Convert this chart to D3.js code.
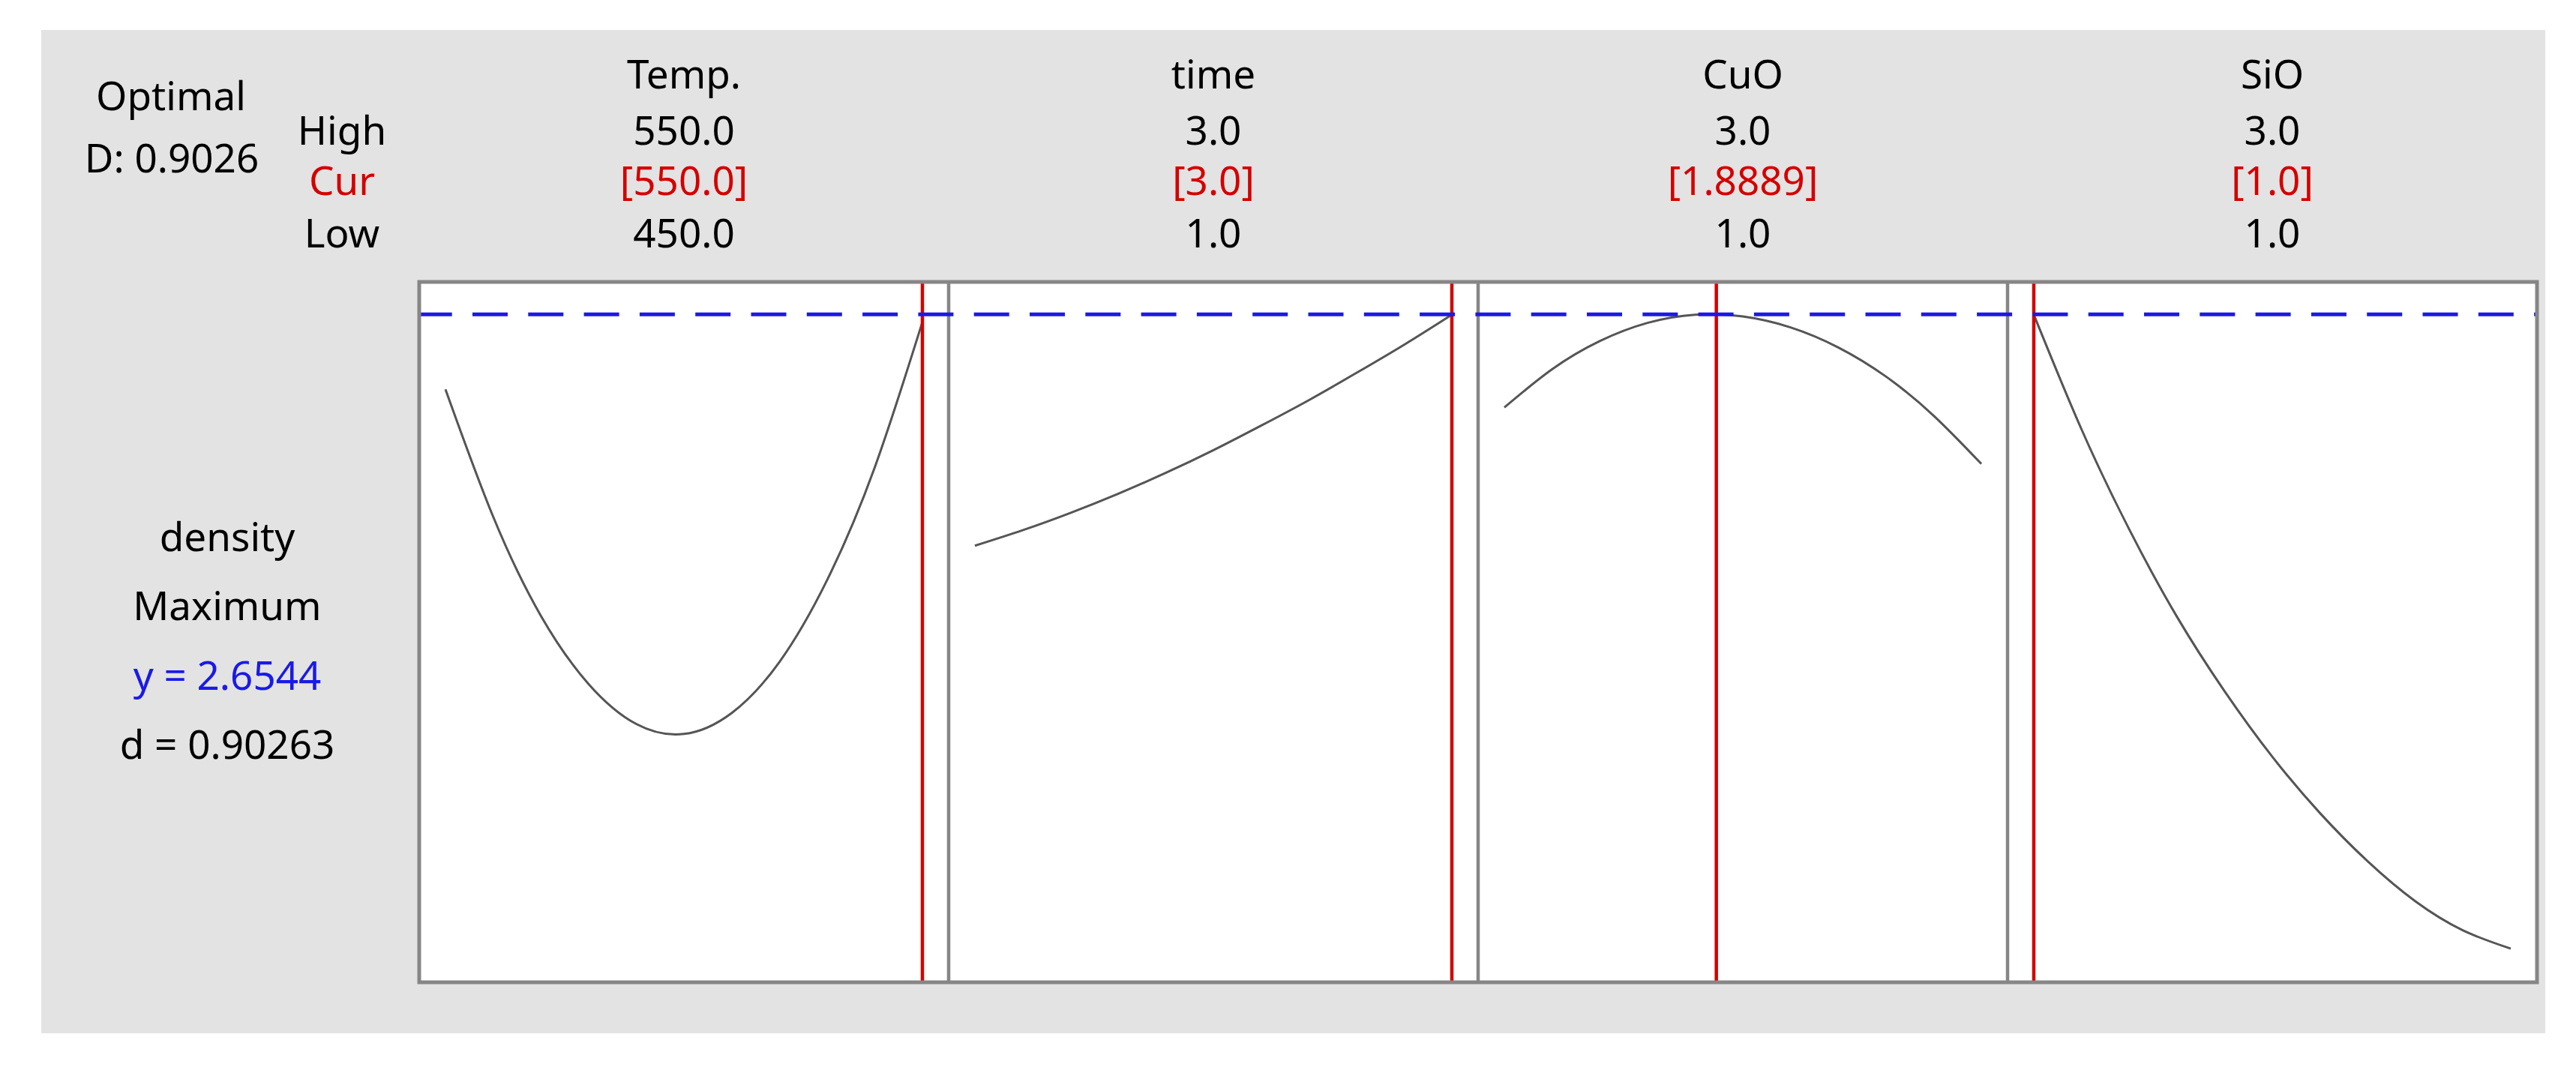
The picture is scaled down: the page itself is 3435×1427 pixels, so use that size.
<!DOCTYPE html>
<html>
<head>
<meta charset="utf-8">
<title>Optimization plot - density</title>
<script src="https://cdn.jsdelivr.net/npm/d3@7"></script>
<style>
  html, body { margin: 0; padding: 0; background: #ffffff; }
  svg { display: block; }
  text { font-family: "Noto Sans", "Open Sans", sans-serif; }
</style>
</head>
<body>
<svg id="chart" width="3435" height="1427"></svg>
<script>
// factor settings
const factors = ["Temp.", "time", "CuO", "SiO"];
const lowValues = [450, 1, 1, 1];
const highValues = [550, 3, 3, 3];
const curValues = [550, 3, 1.8889, 1];
const highLabels = ["550.0", "3.0", "3.0", "3.0"];
const curLabels = ["[550.0]", "[3.0]", "[1.8889]", "[1.0]"];
const lowLabels = ["450.0", "1.0", "1.0", "1.0"];

// predicted density along each factor (others held at current setting)
const tempLevels = [450, 460, 470, 480, 490, 500, 510, 520, 530, 540, 550];
const tempDensity = [2.572, 2.432, 2.323, 2.248, 2.204, 2.193, 2.216, 2.272, 2.362, 2.486, 2.646];
const timeLevels = [1.0, 1.2, 1.4, 1.6, 1.8, 2.0, 2.2, 2.4, 2.6, 2.8, 3.0];
const timeDensity = [2.400, 2.417, 2.436, 2.457, 2.480, 2.505, 2.532, 2.560, 2.590, 2.621, 2.654];
const cuoLevels = [1.0, 1.2, 1.4, 1.6, 1.8, 2.0, 2.2, 2.4, 2.6, 2.8, 3.0];
const cuoDensity = [2.552, 2.594, 2.625, 2.645, 2.654, 2.652, 2.640, 2.618, 2.586, 2.543, 2.490];
const sioLevels = [1.0, 1.2, 1.4, 1.6, 1.8, 2.0, 2.2, 2.4, 2.6, 2.8, 3.0];
const sioDensity = [2.654, 2.528, 2.418, 2.322, 2.240, 2.168, 2.106, 2.053, 2.009, 1.977, 1.957];

const response = "density";
const goal = "Maximum";
const optimalY = 2.6544;
const compositeD = "0.9026";
const individualD = "0.90263";
const yDomain = [1.92, 2.69];

const series = [
  {levels: tempLevels, values: tempDensity},
  {levels: timeLevels, values: timeDensity},
  {levels: cuoLevels, values: cuoDensity},
  {levels: sioLevels, values: sioDensity}
];

const box = {left: 559, right: 3383, top: 376, bottom: 1310};
const pad = 35;
const fontSize = 53;
const frameColor = "#868686";

const svg = d3.select("#chart");

// grey panel behind everything
svg.append("rect")
  .attr("x", 55).attr("y", 40)
  .attr("width", 3394 - 55).attr("height", 1378 - 40)
  .attr("fill", "#e3e3e3");

const band = d3.scaleBand()
  .domain(factors)
  .range([box.left, box.right])
  .padding(0);

const yScale = d3.scaleLinear()
  .domain(yDomain)
  .range([box.bottom, box.top]);

// white plotting area
svg.append("rect")
  .attr("x", box.left).attr("y", box.top)
  .attr("width", box.right - box.left).attr("height", box.bottom - box.top)
  .attr("fill", "#ffffff");

const line = d3.line().curve(d3.curveNatural);

factors.forEach((f, i) => {
  const x0 = band(f);
  const xScale = d3.scaleLinear()
    .domain([lowValues[i], highValues[i]])
    .range([x0 + pad, x0 + band.bandwidth() - pad]);

  const g = svg.append("g").attr("class", "panel");

  // response curve
  const pts = series[i].levels.map((lv, k) => [xScale(lv), yScale(series[i].values[k])]);
  g.append("path")
    .attr("d", line(pts))
    .attr("fill", "none")
    .attr("stroke", "#555555")
    .attr("stroke-width", 3);

  // current setting
  g.append("line")
    .attr("x1", xScale(curValues[i])).attr("x2", xScale(curValues[i]))
    .attr("y1", box.top).attr("y2", box.bottom)
    .attr("stroke", "#d40000")
    .attr("stroke-width", 4.5);

  // panel divider
  if (i > 0) {
    g.append("line")
      .attr("x1", x0).attr("x2", x0)
      .attr("y1", box.top).attr("y2", box.bottom)
      .attr("stroke", frameColor)
      .attr("stroke-width", 4.5);
  }

  // header text
  const cx = x0 + band.bandwidth() / 2;
  const head = svg.append("g").attr("text-anchor", "middle").attr("font-size", fontSize);
  head.append("text").attr("x", cx).attr("y", 118).attr("fill", "#000").text(f);
  head.append("text").attr("x", cx).attr("y", 193).attr("fill", "#000").text(highLabels[i]);
  head.append("text").attr("x", cx).attr("y", 260).attr("fill", "#d40000").text(curLabels[i]);
  head.append("text").attr("x", cx).attr("y", 330).attr("fill", "#000").text(lowLabels[i]);
});

// optimal response line
svg.append("line")
  .attr("x1", box.left).attr("x2", box.right)
  .attr("y1", yScale(optimalY)).attr("y2", yScale(optimalY))
  .attr("stroke", "#1a1ae6")
  .attr("stroke-width", 5)
  .attr("stroke-dasharray", "47,27.3")
  .attr("stroke-dashoffset", 3.3);

// outer frame
svg.append("rect")
  .attr("x", box.left).attr("y", box.top)
  .attr("width", box.right - box.left).attr("height", box.bottom - box.top)
  .attr("fill", "none")
  .attr("stroke", frameColor)
  .attr("stroke-width", 5);

// left side labels
const left = svg.append("g").attr("text-anchor", "middle").attr("font-size", fontSize);
left.append("text").attr("x", 228).attr("y", 147).text("Optimal");
left.append("text").attr("x", 229).attr("y", 230).text("D: " + compositeD);
left.append("text").attr("x", 456).attr("y", 193).text("High");
left.append("text").attr("x", 456).attr("y", 260).attr("fill", "#d40000").text("Cur");
left.append("text").attr("x", 456).attr("y", 330).text("Low");

left.append("text").attr("x", 303).attr("y", 735).text(response);
left.append("text").attr("x", 303).attr("y", 827).text(goal);
left.append("text").attr("x", 303).attr("y", 920).attr("fill", "#1a1ae6").text("y = " + optimalY.toFixed(4));
left.append("text").attr("x", 303).attr("y", 1012).text("d = " + individualD);
</script>
</body>
</html>
